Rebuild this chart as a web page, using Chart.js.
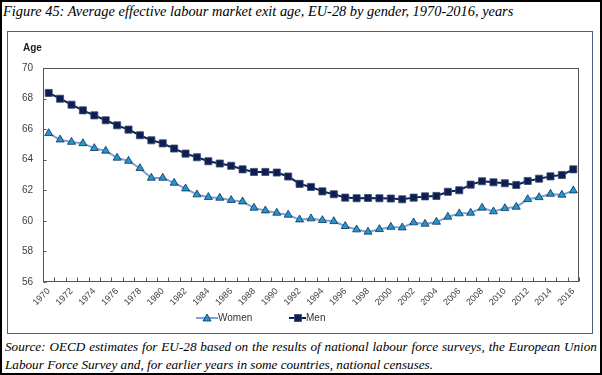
<!DOCTYPE html>
<html>
<head>
<meta charset="utf-8">
<script src="https://cdn.jsdelivr.net/npm/chart.js@4.4.1/dist/chart.umd.min.js"></script>
<style>
    body { margin: 0; background: #fff; }
    #page { position: relative; width: 602px; height: 375px; overflow: hidden; background: #fff; }
    #outer { position: absolute; left: 0; top: 0; width: 602px; height: 375px; box-sizing: border-box; border: 2px solid #000; z-index: 5; }
    #title { position: absolute; left: 3px; top: 3px; font: italic 14.4px "Liberation Serif", serif; color: #000; white-space: nowrap; }
    #box { position: absolute; left: 7px; top: 31px; width: 586px; height: 303px; box-sizing: border-box; border: 1px solid #4f5f7d; }
    #chartWrap { position: absolute; left: 8px; top: 32px; width: 584px; height: 290px; }
    #ageLabel { position: absolute; left: 23px; top: 42px; font: bold 10px "Liberation Sans", Arial, sans-serif; color: #222; }
    .legend-item { position: absolute; top: 312px; height: 12px; font: 10px "Liberation Sans", Arial, sans-serif; color: #333; line-height: 12px; z-index: 3; }
    .legend-item svg { position: absolute; left: 0; top: 1px; }
    .legend-item span { position: absolute; top: 0; white-space: nowrap; }
    .source { position: absolute; left: 5px; font: italic 14px "Liberation Serif", serif; color: #000; white-space: nowrap; }
    #source1 { top: 339px; }
    #source2 { top: 357px; }
</style>
</head>
<body>
<div id="page">
    <div id="title">Figure 45: Average effective labour market exit age, EU-28 by gender, 1970-2016, years</div>
    <div id="box"></div>
    <div id="chartWrap"><canvas id="exitChart" width="584" height="290"></canvas></div>
    <div id="ageLabel">Age</div>
    <div class="legend-item" style="left:196px;width:60px;">
        <svg width="22" height="10"><line x1="0" y1="5" x2="22" y2="5" stroke="#7fa2d6" stroke-width="2"/><polygon points="11,1 15,8 7,8" fill="#2496cf" stroke="#0e2f55" stroke-width="0.8"/></svg>
        <span style="left:22px;">Women</span>
    </div>
    <div class="legend-item" style="left:289px;width:45px;">
        <svg width="17" height="10"><line x1="0" y1="5" x2="17" y2="5" stroke="#0d1f52" stroke-width="2"/><rect x="5.5" y="1.5" width="7" height="7" fill="#0d1f52" stroke="#3a4a70" stroke-width="0.8"/></svg>
        <span style="left:17px;">Men</span>
    </div>
    <div class="source" id="source1">Source: OECD estimates for EU-28 based on the results of national labour force surveys, the European Union</div>
    <div class="source" id="source2">Labour Force Survey and, for earlier years in some countries, national censuses.</div>
    <div id="outer"></div>
</div>
<script>
// Chart data
const years = ['1970', '1971', '1972', '1973', '1974', '1975', '1976', '1977', '1978', '1979',
    '1980', '1981', '1982', '1983', '1984', '1985', '1986', '1987', '1988', '1989',
    '1990', '1991', '1992', '1993', '1994', '1995', '1996', '1997', '1998', '1999',
    '2000', '2001', '2002', '2003', '2004', '2005', '2006', '2007', '2008', '2009',
    '2010', '2011', '2012', '2013', '2014', '2015', '2016'];

const womenAge = [65.73, 65.31, 65.16, 65.07, 64.75, 64.58, 64.12, 63.92, 63.44, 62.81,
    62.81, 62.48, 62.11, 61.72, 61.55, 61.50, 61.35, 61.26, 60.85, 60.67,
    60.52, 60.39, 60.08, 60.15, 60.04, 59.97, 59.65, 59.43, 59.28, 59.45,
    59.60, 59.56, 59.89, 59.80, 59.93, 60.26, 60.48, 60.52, 60.85, 60.61,
    60.82, 60.91, 61.41, 61.54, 61.76, 61.70, 61.98];

const menAge = [68.37, 67.99, 67.60, 67.23, 66.90, 66.58, 66.25, 65.97, 65.60, 65.27,
    65.07, 64.73, 64.40, 64.16, 63.90, 63.75, 63.60, 63.37, 63.20, 63.20,
    63.16, 62.90, 62.42, 62.22, 61.93, 61.74, 61.52, 61.48, 61.50, 61.48,
    61.46, 61.41, 61.52, 61.60, 61.63, 61.90, 62.00, 62.37, 62.59, 62.52,
    62.46, 62.35, 62.61, 62.76, 62.91, 63.00, 63.37];

// only every second year gets a label
const xTickLabels = years.map((y, i) => (i % 2 === 0 ? y : ''));

const yMin = 56;
const yMax = 70;
const yStep = 2;

// Stretch / shrink the first source line so it fills the width like the original
function fitSourceLine() {
    const el = document.getElementById('source1');
    const target = 592;
    let size = 14;
    el.style.fontSize = size + 'px';
    while (el.scrollWidth > target - 4 && size > 11) {
        size -= 0.2;
        el.style.fontSize = size + 'px';
    }
    const gaps = el.textContent.split(' ').length - 1;
    const extra = (target - el.scrollWidth) / gaps;
    el.style.wordSpacing = extra.toFixed(2) + 'px';
    document.getElementById('source2').style.fontSize = size + 'px';
}
fitSourceLine();

// Plot frame plus small inward tick marks (Excel style)
const framePlugin = {
    id: 'framePlugin',
    beforeDatasetsDraw(chart) {
        const ctx = chart.ctx;
        const area = chart.chartArea;
        const xs = chart.scales.x;
        const ys = chart.scales.y;
        ctx.save();
        ctx.strokeStyle = '#555';
        ctx.lineWidth = 1;
        const l = Math.round(area.left) + 0.5;
        const r = Math.round(area.right) - 0.5;
        const t = Math.round(area.top) + 0.5;
        const b = Math.round(area.bottom) - 0.5;
        ctx.strokeRect(l, t, r - l, b - t);

        ctx.beginPath();
        ys.ticks.forEach((tick, i) => {
            const y = Math.round(ys.getPixelForTick(i)) + 0.5;
            ctx.moveTo(l, y);
            ctx.lineTo(l + 3, y);
        });
        const half = (xs.getPixelForValue(1) - xs.getPixelForValue(0)) / 2;
        for (let i = 0; i <= years.length; i++) {
            const x = Math.round(xs.getPixelForValue(i) - half) + 0.5;
            ctx.moveTo(x, b);
            ctx.lineTo(x, b - 4);
        }
        ctx.stroke();
        ctx.restore();
    }
};

const ctx = document.getElementById('exitChart').getContext('2d');
const chart = new Chart(ctx, {
    type: 'line',
    data: {
        labels: years,
        datasets: [{
            label: 'Women',
            data: womenAge,
            borderColor: '#7fa2d6',
            borderWidth: 2,
            backgroundColor: '#2496cf',
            pointStyle: 'triangle',
            pointRadius: 4.6,
            pointBorderColor: '#0e2f55',
            pointBorderWidth: 0.8,
            tension: 0
        }, {
            label: 'Men',
            data: menAge,
            borderColor: '#0d1f52',
            borderWidth: 2,
            backgroundColor: '#0d1f52',
            pointStyle: 'rect',
            pointRadius: 5,
            pointBorderColor: '#3a4a70',
            pointBorderWidth: 0.8,
            tension: 0
        }]
    },
    options: {
        responsive: false,
        animation: false,
        layout: {
            padding: { top: 36, right: 13, left: 0, bottom: 0 }
        },
        plugins: {
            legend: { display: false },
            tooltip: { enabled: false }
        },
        scales: {
            x: {
                type: 'category',
                offset: true,
                border: { display: false },
                grid: { display: false, drawTicks: false },
                ticks: {
                    autoSkip: false,
                    minRotation: 45,
                    maxRotation: 45,
                    padding: 4,
                    color: '#404040',
                    font: { family: '"Liberation Sans", Arial, sans-serif', size: 9 },
                    callback: function(value, index) {
                        return xTickLabels[index];
                    }
                },
                afterFit: function(scale) {
                    scale.height = 40;
                }
            },
            y: {
                min: yMin,
                max: yMax,
                border: { display: false },
                grid: { display: false, drawTicks: false },
                ticks: {
                    stepSize: yStep,
                    padding: 10,
                    color: '#404040',
                    font: { family: '"Liberation Sans", Arial, sans-serif', size: 10 }
                },
                afterFit: function(scale) {
                    scale.width = 35;
                }
            }
        }
    },
    plugins: [framePlugin]
});
</script>
</body>
</html>
